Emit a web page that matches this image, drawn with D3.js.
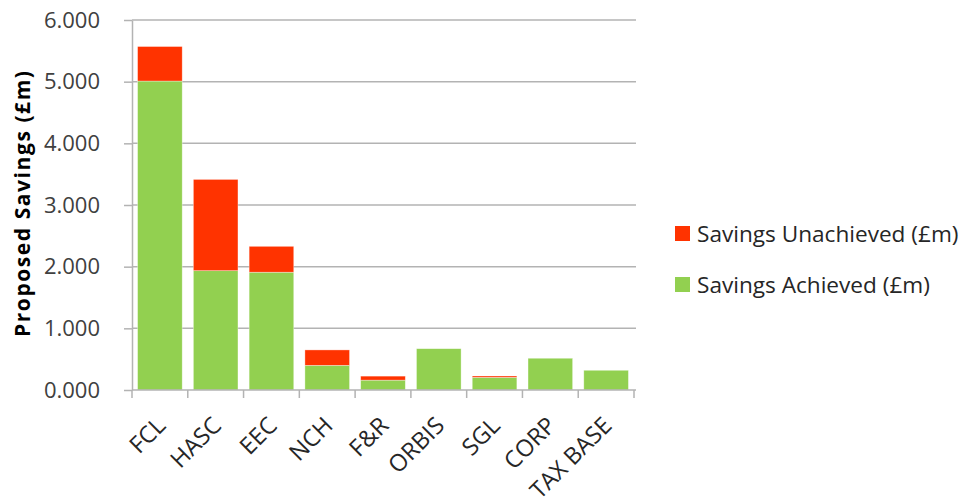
<!DOCTYPE html>
<html>
<head>
<meta charset="utf-8">
<script src="https://cdn.jsdelivr.net/npm/d3@7"></script>
<style>
  body { margin: 0; background: #fff; }
  svg text { font-family: "Open Sans", sans-serif; fill: #262626; }
</style>
</head>
<body>
<svg width="959" height="502"></svg>
<script>
let categories = ['FCL', 'HASC', 'EEC', 'NCH', 'F&R', 'ORBIS', 'SGL', 'CORP', 'TAX BASE'];
let achieved   = [5.01, 1.935, 1.91, 0.40, 0.16, 0.67, 0.205, 0.515, 0.32];
let unachieved = [0.56, 1.48, 0.42, 0.25, 0.065, 0, 0.022, 0, 0];
let yTicks = [0, 1, 2, 3, 4, 5, 6];
let seriesNames = ['Savings Unachieved (£m)', 'Savings Achieved (£m)'];
let seriesColors = ['#ff3300', '#92d050'];

let svg = d3.select('svg');
let plotLeft = 132, plotRight = 634, plotTop = 20, plotBottom = 390;

let x = d3.scaleBand()
  .domain(categories)
  .range([plotLeft, plotRight])
  .paddingInner(0.2)
  .paddingOuter(0.1);

let y = d3.scaleLinear()
  .domain([0, 6])
  .range([plotBottom, plotTop]);

// gridlines
svg.append('g')
  .selectAll('line')
  .data(yTicks.slice(1))
  .enter()
    .append('line')
    .attr('x1', plotLeft)
    .attr('x2', plotRight + 2)
    .attr('y1', d => y(d))
    .attr('y2', d => y(d))
    .attr('stroke', '#b3b3b3')
    .attr('stroke-width', 1.5)
  ;

let rows = categories.map((c, i) => ({ cat: c, achieved: achieved[i], unachieved: unachieved[i] }));
let stack = d3.stack().keys(['achieved', 'unachieved'])(rows);
let colorOf = { achieved: seriesColors[1], unachieved: seriesColors[0] };

svg.append('g')
  .selectAll('g')
  .data(stack)
  .enter()
    .append('g')
    .attr('fill', d => colorOf[d.key])
    .selectAll('rect')
    .data(d => d)
    .enter()
      .append('rect')
      .attr('x', d => x(d.data.cat))
      .attr('width', x.bandwidth())
      .attr('y', d => y(d[1]))
      .attr('height', d => y(d[0]) - y(d[1]))
      .attr('stroke', 'rgba(255,255,255,0.5)')
      .attr('stroke-width', 0.7)
  ;

// y axis
let yAxis = svg.append('g')
  .attr('transform', `translate(${plotLeft},0)`)
  .call(d3.axisLeft(y).tickValues(yTicks).tickFormat(d3.format('.3f')).tickSize(8).tickSizeOuter(0));
yAxis.select('.domain').attr('stroke', '#b3b3b3').attr('stroke-width', 1.5);
yAxis.selectAll('.tick line').attr('stroke', '#b3b3b3').attr('stroke-width', 1.5);
yAxis.selectAll('.tick text')
  .attr('x', -32)
  .style('font-size', '22px')
  .style('fill', '#404040');

// x axis
let bounds = d3.range(categories.length + 1).map(i => plotLeft + i * (plotRight - plotLeft) / categories.length);
let xAxis = svg.append('g');
xAxis.append('line')
  .attr('x1', plotLeft).attr('x2', plotRight + 2)
  .attr('y1', plotBottom).attr('y2', plotBottom)
  .attr('stroke', '#b3b3b3').attr('stroke-width', 1.5);
xAxis.selectAll('.tk')
  .data(bounds)
  .enter()
    .append('line')
    .attr('x1', d => d).attr('x2', d => d)
    .attr('y1', plotBottom).attr('y2', plotBottom + 8)
    .attr('stroke', '#b3b3b3').attr('stroke-width', 1.5);
xAxis.selectAll('text')
  .data(categories)
  .enter()
    .append('text')
    .attr('text-anchor', 'end')
    .attr('transform', d => `translate(${x(d) + x.bandwidth() / 2 + 7},${plotBottom + 37}) rotate(-45)`)
    .style('font-size', '23.5px')
    .text(d => d);

// y title
svg.append('text')
  .attr('transform', `translate(30,204) rotate(-90)`)
  .attr('text-anchor', 'middle')
  .style('font-size', '21px')
  .style('font-weight', 'bold')
  .style('fill', '#000')
  .attr('textLength', 266)
  .attr('lengthAdjust', 'spacing')
  .text('Proposed Savings (£m)');

// legend
let legend = svg.append('g')
  .selectAll('g')
  .data(seriesNames)
  .enter()
    .append('g')
    .attr('transform', (d, i) => `translate(675,${226 + i * 51})`);
legend.append('rect')
  .attr('width', 15).attr('height', 15)
  .attr('fill', (d, i) => seriesColors[i]);
legend.append('text')
  .attr('x', 22).attr('y', 8).attr('dy', '0.35em')
  .style('font-size', '22.6px')
  .text(d => d);
</script>
</body>
</html>
